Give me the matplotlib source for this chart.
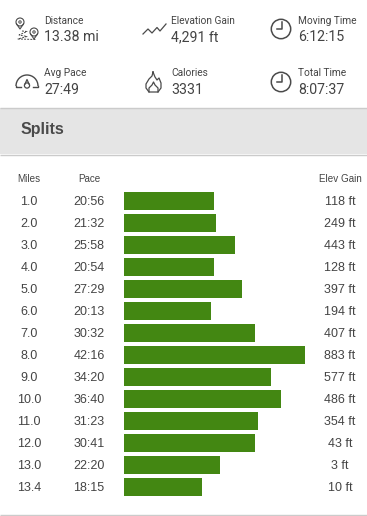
import matplotlib
matplotlib.use('Agg')
import matplotlib.pyplot as plt
from matplotlib.patches import Circle, Arc, Rectangle

W, H = 367, 516

miles = ['1.0', '2.0', '3.0', '4.0', '5.0', '6.0', '7.0', '8.0', '9.0', '10.0', '11.0', '12.0', '13.0', '13.4']
pace = ['20:56', '21:32', '25:58', '20:54', '27:29', '20:13', '30:32', '42:16', '34:20', '36:40', '31:23', '30:41', '22:20', '18:15']
elev = ['118 ft', '249 ft', '443 ft', '128 ft', '397 ft', '194 ft', '407 ft', '883 ft', '577 ft', '486 ft', '354 ft', '43 ft', '3 ft', '10 ft']
stat_labels = ['Distance', 'Elevation Gain', 'Moving Time', 'Avg Pace', 'Calories', 'Total Time']
stat_values = ['13.38 mi', '4,291 ft', '6:12:15', '27:49', '3331', '8:07:37']
columns = ['Miles', 'Pace', 'Elev Gain']

GREEN = '#438712'
DARK = '#444444'
ICON = '#4a4a4a'


def pace_minutes(s):
    m, sec = s.split(':')
    return int(m) + int(sec) / 60


fig = plt.figure(figsize=(W / 100, H / 100), dpi=100)

# page layer in pixel coords, y down like the screenshot
bg = fig.add_axes([0, 0, 1, 1])
bg.set_xlim(0, W)
bg.set_ylim(H, 0)
bg.axis('off')

bg.add_patch(Rectangle((0, 108), W, 46, fc='#e5e5e5', ec='none'))
for y in (108, 154.5, 515):
    bg.plot([0, W], [y, y], color='#cbcbcb', lw=1, solid_capstyle='butt')
bg.text(21, 129.5, 'Splits', fontsize=11.5, fontweight='bold', color='#4a4a4a',
        family='Liberation Sans', va='center')

# top stats
stat_x = [44, 171, 298, 44, 171, 298]
stat_y = [20.5, 20.5, 20.5, 73.5, 73.5, 73.5]
for i in range(6):
    bg.text(stat_x[i], stat_y[i], stat_labels[i], fontsize=7.3, color=DARK,
            family='Roboto', va='center')
    bg.text(stat_x[i], stat_y[i] + 16.5, stat_values[i], fontsize=10.2, color=DARK,
            family='Roboto', va='center')


def pin(x, y):
    bg.add_patch(Circle((x, y), 4, fc='none', ec=ICON, lw=0.8))
    bg.add_patch(Circle((x, y), 1.2, fc='none', ec=ICON, lw=0.7))
    bg.plot([x - 3.6, x, x + 3.6], [y + 1.8, y + 7, y + 1.8], color=ICON, lw=0.8)


def clock(x, y):
    bg.add_patch(Circle((x, y), 9.7, fc='none', ec=ICON, lw=1.1))
    bg.plot([x + 1, x + 1, x - 4], [y - 7, y, y], color=ICON, lw=1.1)


# distance icon
pin(20, 22)
pin(34, 32)
bg.plot([22, 27, 19, 27, 18, 36], [31, 31.5, 35, 36.5, 39, 39.5],
        color=ICON, lw=0.7, ls=(0, (2, 1.2)))
# elevation icon
bg.plot([143, 148, 152, 157, 160, 166], [34, 29, 33, 27.5, 31, 24], color=ICON, lw=0.9)
clock(281, 29)
clock(281, 82)
# gauge icon
bg.add_patch(Arc((27, 86), 22, 22, theta1=180, theta2=360, ec=ICON, lw=1))
bg.plot([16, 16, 21], [86, 87, 87], color=ICON, lw=1)
bg.plot([33, 38, 38], [87, 87, 86], color=ICON, lw=1)
bg.add_patch(Circle((27, 85.5), 2.6, fc='none', ec=ICON, lw=0.9))
bg.plot([25, 27, 29], [84, 79.5, 84], color=ICON, lw=0.9)
# flame icon
bg.plot([153, 155, 157, 159, 161, 161, 158, 149, 146, 146, 149, 152, 153],
        [72, 77, 80, 78, 83, 88, 92, 92, 88, 84, 79, 76, 72], color=ICON, lw=0.9)
bg.plot([149, 149, 152, 153.5, 155, 158, 158], [92, 88, 85, 82, 85, 88, 92], color=ICON, lw=0.9)

# column headers
hdr_x = [29, 89, 340]
for x, t in zip(hdr_x, columns):
    bg.text(x, 179, t, fontsize=7.1, color=DARK, family='Liberation Sans', ha='center', va='center')

# bar chart, one row is 22 px: axes spans rows from y=190 to 498
ax = fig.add_axes([124 / W, 1 - 498 / H, 181 / W, 308 / H])
ax.set_xlim(0, pace_minutes('42:16'))
ax.set_ylim(len(miles) - 0.5, -0.5)
ax.axis('off')
ax.patch.set_alpha(0)
vals = [pace_minutes(p) for p in pace]
ax.barh(range(len(vals)), vals, height=18 / 22, color=GREEN)

for i in range(len(miles)):
    y = 202 + 22 * i
    bg.text(29, y, miles[i], fontsize=9, color=DARK, family='Liberation Sans', ha='center', va='center')
    bg.text(89, y, pace[i], fontsize=9, color=DARK, family='Liberation Sans', ha='center', va='center')
    bg.text(340, y, elev[i], fontsize=9, color=DARK, family='Liberation Sans', ha='center', va='center')

fig.savefig('out.png', dpi=100)
